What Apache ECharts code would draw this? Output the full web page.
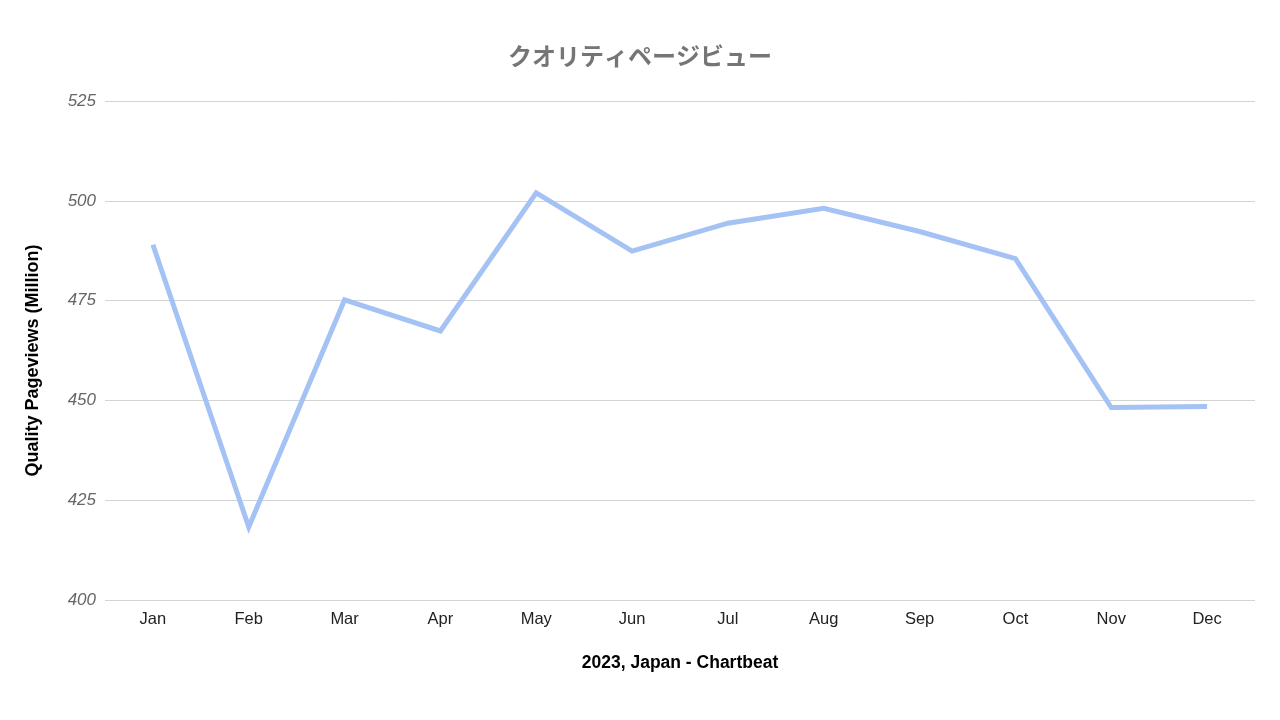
<!DOCTYPE html>
<html><head><meta charset="utf-8">
<script src="https://cdn.jsdelivr.net/npm/echarts@6/dist/echarts.min.js"></script>
<style>html,body{margin:0;padding:0;background:#fff}#c{width:1280px;height:720px}</style>
</head><body><div id="c"></div>
<script>
var categories = ['Jan','Feb','Mar','Apr','May','Jun','Jul','Aug','Sep','Oct','Nov','Dec'];
var values = [489, 418.3, 475.2, 467.4, 502, 487.4, 494.4, 498.1, 492.3, 485.5, 448.2, 448.5];
var yTicks = [400, 425, 450, 475, 500, 525];
var chart = echarts.init(document.getElementById('c'));
chart.setOption({
  backgroundColor: '#fff',
  animation: false,
  title: {text: 'クオリティページビュー', left: 'center', top: 39,
    textStyle: {color: '#757575', fontSize: 24, fontWeight: 'bold', fontFamily: 'Noto Sans CJK JP'}},
  grid: {left: 105, right: 25, top: 101, bottom: 120},
  xAxis: {type: 'category', data: categories, boundaryGap: true,
    name: '2023, Japan - Chartbeat', nameLocation: 'middle', nameGap: 54,
    nameTextStyle: {color: '#000', fontSize: 17.5, fontWeight: 'bold', fontFamily: 'Liberation Sans'},
    axisLine: {show: false}, axisTick: {show: false},
    axisLabel: {color: '#222', fontSize: 16.5, margin: 11, fontFamily: 'Liberation Sans'}},
  yAxis: {type: 'value', min: yTicks[0], max: yTicks[yTicks.length-1], interval: 25,
    name: 'Quality Pageviews (Million)', nameLocation: 'middle', nameGap: 63,
    nameTextStyle: {color: '#000', fontSize: 18, fontWeight: 'bold', fontFamily: 'Liberation Sans', padding: [0, 20, 0, 0]},
    axisLine: {show: false}, axisTick: {show: false},
    splitLine: {lineStyle: {color: '#d3d3d3', width: 1}},
    axisLabel: {color: '#666', fontSize: 17, fontStyle: 'italic', margin: 9, fontFamily: 'Liberation Sans'}},
  series: [{type: 'line', data: values, symbol: 'none',
    lineStyle: {color: '#a4c2f4', width: 5, cap: 'butt', join: 'miter'}}]
});
</script></body></html>
